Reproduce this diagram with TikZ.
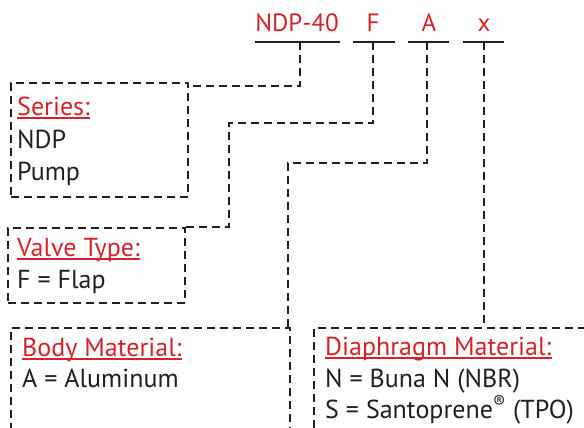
\documentclass[tikz,border=0pt]{standalone}
\usepackage{fontspec}
\setmainfont{PT Sans}
\definecolor{tred}{HTML}{D2232A}
\definecolor{tdark}{HTML}{231F20}
\begin{document}
\begin{tikzpicture}[x=1pt,y=-1pt,
  dline/.style={draw=tdark,line width=2.2pt,dash pattern=on 8pt off 5pt},
  boxnode/.style={dline,inner sep=0pt,anchor=north west},
  lbl/.style={inner sep=0pt,anchor=base west,font=\fontsize{26}{30}\selectfont,text=tdark},
  ttl/.style={lbl,text=tred},
  code/.style={inner sep=0pt,anchor=base,font=\fontsize{25}{30}\selectfont,text=tred},
  bar/.style={draw=tdark,line width=2.5pt},
  uline/.style={draw=tred,line width=1.3pt}]
\useasboundingbox (0,0) rectangle (584,428);
\clip (0,0) rectangle (584,428);
% code
\node[code] (cN) at (297,32) {NDP-40};
\node[code] (cF) at (373,32) {F};
\node[code] (cA) at (429,32) {A};
\node[code] (cX) at (484,32) {x};
\coordinate (bN) at (300,42);
\coordinate (bF) at (373,42);
\coordinate (bA) at (427,42);
\coordinate (bX) at (484,42);
\draw[bar] (255,42) -- (340,42);
\draw[bar] (353,42) -- (395,42);
\draw[bar] (408,42) -- (449,42);
\draw[bar] (463,42) -- (504,42);
% boxes
\node[boxnode,minimum width=177pt,minimum height=114pt] (series) at (10,82) {};
\node[boxnode,minimum width=177pt,minimum height=75pt] (valve) at (7,227) {};
\node[boxnode,minimum width=279pt,minimum height=140pt] (body) at (10,327) {};
\node[boxnode,minimum width=300pt,minimum height=140pt] (diaph) at (313,327) {};
% texts
\node[ttl] (tS) at (17,115) {Series:};
\node[lbl] (tS1) at (17,148) {NDP};
\node[lbl] (tS2) at (17,180) {Pump};
\node[ttl] (tV) at (17,256) {Valve Type:};
\node[lbl] (tV1) at (17,288) {F = Flap};
\node[ttl] (tB) at (22,356) {Body Material:};
\node[lbl] (tB1) at (22,387) {A = Aluminum};
\node[ttl] (tD) at (325,355) {Diaphragm Material:};
\node[lbl] (tD1) at (325,387) {N = Buna N (NBR)};
\node[lbl] (tD2) at (325,418) {S = Santoprene\textsuperscript{®} (TPO)};
\foreach \n in {tS,tV,tB,tD}
  \draw[uline] ([yshift=-3pt]\n.base west) -- ([yshift=-3pt]\n.base east);
% connectors
\draw[dline] (bN) |- ([yshift=-4pt]series.north east);
\draw[dline] (bF) |- (229,123) |- (valve.north east);
\draw[dline] (bA) |- (288,163) |- (body.north east);
\draw[dline] (bX) -- (bX |- diaph.north);
\end{tikzpicture}
\end{document}
